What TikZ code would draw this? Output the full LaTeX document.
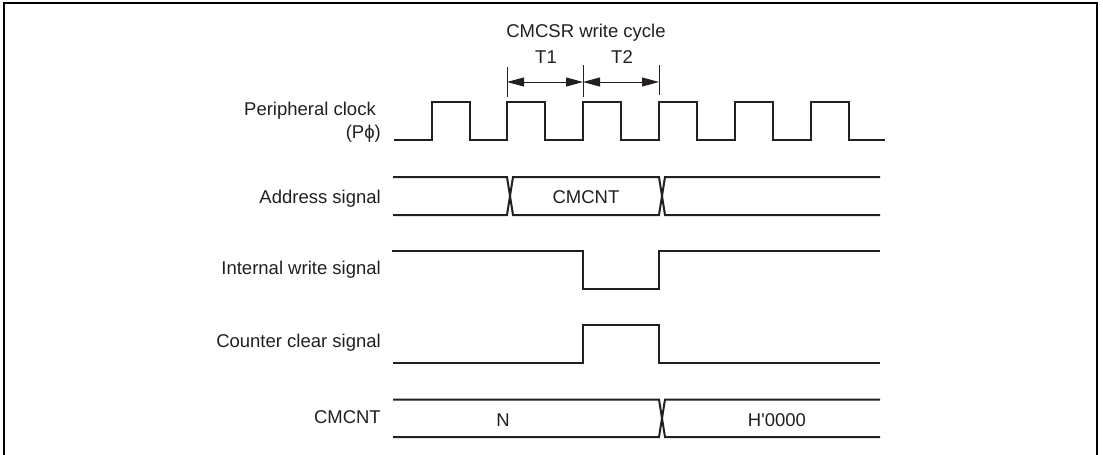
\documentclass[tikz,border=0pt]{standalone}
\usepackage{fontspec}
\setmainfont{Liberation Sans}
\newfontfamily\plainfont{Liberation Sans}
\usetikzlibrary{arrows.meta, positioning}

\definecolor{inkdark}{HTML}{231F20}

\begin{document}
\begin{tikzpicture}[
    x=1pt, y=-1pt,
    frameline/.style={draw=black, line width=2pt},
    wave/.style={draw=inkdark, line width=2pt, line join=miter},
    thin tick/.style={draw=inkdark, line width=0.9pt},
    span/.style={draw=inkdark, line width=0.9pt, {Stealth[length=17pt, width=9pt, inset=0pt]}-{Stealth[length=17pt, width=9pt, inset=0pt]}},
    siglabel/.style={anchor=base east, text=inkdark, inner sep=0pt, font=\fontsize{18.5}{23}\selectfont},
    toplabel/.style={anchor=base, text=inkdark, inner sep=0pt, font=\fontsize{18.5}{22}\selectfont}
]
\useasboundingbox (0,0) rectangle (1103,455);

% Frame
\draw [frameline] (4,455) -- (4,3) -- (1097,3) -- (1097,455);

% Labels
\node (title) [toplabel] at (586,37) {CMCSR write cycle};
\node (tone) [toplabel] at (546,63) {T1};
\node (ttwo) [toplabel] at (622,63) {T2};
\node (clklabel) [siglabel] at (376,115) {Peripheral clock};
\node (clkname) [siglabel] at (381,138) {(P\char"03D5)};
\node (addrlabel) [siglabel] at (381,203) {Address signal};
\node (wrlabel) [siglabel] at (381,274) {Internal write signal};
\node (clrlabel) [siglabel] at (381,347) {Counter clear signal};
\node (cntlabel) [siglabel] at (381,423) {CMCNT};
\node (addrval) [toplabel] at (586,203) {CMCNT};
\node (cntn) [toplabel] at (503,426) {N};
\node (cntval) [toplabel] at (777,426) {{\plainfont H'0000}};

% T1 and T2
\coordinate (ta) at (507,82);
\coordinate (tb) at (583,82);
\coordinate (tc) at (659,82);
\draw [thin tick] (507,67) -- (507,97);
\draw [thin tick] (583,65) -- (583,97);
\draw [thin tick] (659,65) -- (659,95);
\draw [span] (ta) -- (tb);
\draw [span] (tb) -- (tc);

% Clock
\draw [wave] (394,139.5) foreach \e in {432,507,583,659,735,811} {
    -- (\e,139.5) -- (\e,102) -- (\e+38,102) -- (\e+38,139.5)}
    -- (885,139.5);

% Address signal
\draw [wave] (393,177) -- (507,177) -- (513,215) -- (659,215) -- (665,177) -- (880,177);
\draw [wave] (393,215) -- (507,215) -- (513,177) -- (659,177) -- (665,215) -- (880,215);

% Internal write signal
\draw [wave] (392,251) -- (583,251) -- (583,289) -- (659,289) -- (659,251) -- (880,251);

% Counter clear signal
\draw [wave] (393,363) -- (583,363) -- (583,325) -- (659,325) -- (659,363) -- (880,363);

% CMCNT
\draw [wave] (393,399.5) -- (659,399.5) -- (665,437) -- (880,437);
\draw [wave] (393,437) -- (659,437) -- (665,399.5) -- (880,399.5);

\end{tikzpicture}
\end{document}
